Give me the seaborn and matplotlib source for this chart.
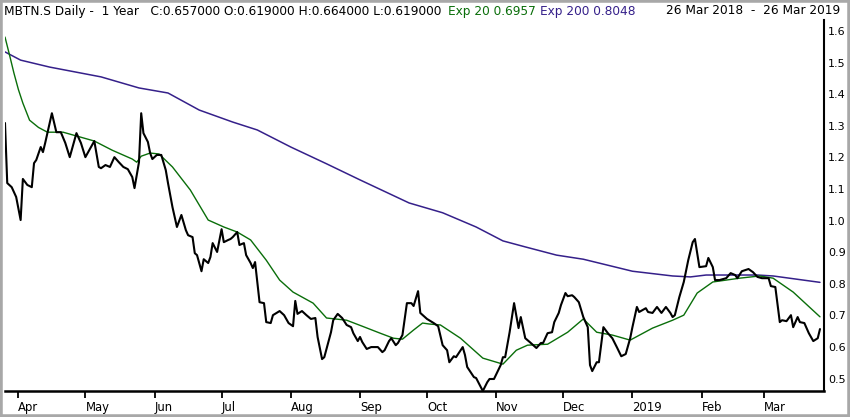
import numpy as np
import pandas as pd
import matplotlib
matplotlib.use("Agg")
import matplotlib.pyplot as plt
import matplotlib.dates as mdates
from matplotlib.ticker import FuncFormatter, FixedLocator
from matplotlib.patches import Rectangle
import seaborn as sns

# ---------------- data ----------------
start_date = "2018-03-26"
end_date = "2019-03-26"

close_day = [0, 1, 3, 5, 7, 8, 10, 12, 13, 14,
             16, 17, 18, 19, 21, 23, 25, 27, 29, 32,
             34, 36, 40, 42, 43, 45, 47, 49, 51, 53,
             55, 57, 58, 60, 61, 62, 64, 65, 66, 68,
             70, 72, 73, 75, 77, 79, 81, 82, 84, 85,
             86, 88, 89, 91, 92, 93, 95, 97, 98, 100,
             101, 102, 104, 105, 107, 108, 110, 111, 112, 114,
             116, 117, 119, 120, 123, 125, 127, 129, 130, 131,
             133, 135, 137, 139, 140, 142, 143, 146, 147, 149,
             151, 153, 155, 156, 158, 159, 160, 162, 164, 167,
             169, 170, 172, 173, 175, 176, 178, 180, 182, 183,
             185, 186, 189, 192, 194, 196, 198, 199, 201, 202,
             205, 206, 207, 210, 211, 214, 216, 217, 219, 222,
             223, 224, 226, 228, 230, 231, 233, 235, 238, 240,
             241, 243, 245, 246, 248, 249, 251, 252, 254, 255,
             257, 259, 261, 262, 263, 265, 266, 268, 270, 272,
             274, 276, 278, 280, 281, 283, 284, 287, 288, 290,
             292, 294, 296, 298, 299, 300, 302, 304, 306, 308,
             309, 311, 314, 315, 317, 318, 320, 323, 325, 327,
             328, 330, 333, 335, 337, 339, 342, 343, 345, 347,
             348, 350, 352, 353, 355, 356, 358, 360, 362, 364,
             365]
close_val = [1.309, 1.119, 1.106, 1.075, 1.002, 1.132, 1.113, 1.106, 1.182, 1.192,
             1.233, 1.217, 1.246, 1.277, 1.340, 1.280, 1.280, 1.246, 1.201, 1.277,
             1.246, 1.201, 1.252, 1.170, 1.166, 1.176, 1.170, 1.201, 1.185, 1.170,
             1.163, 1.138, 1.103, 1.185, 1.340, 1.277, 1.249, 1.214, 1.195, 1.208,
             1.208, 1.160, 1.119, 1.043, 0.980, 1.018, 0.970, 0.954, 0.948, 0.897,
             0.891, 0.840, 0.878, 0.866, 0.885, 0.929, 0.901, 0.973, 0.932, 0.939,
             0.942, 0.948, 0.964, 0.923, 0.929, 0.891, 0.866, 0.850, 0.869, 0.742,
             0.739, 0.679, 0.676, 0.701, 0.714, 0.701, 0.676, 0.666, 0.746, 0.705,
             0.714, 0.701, 0.689, 0.692, 0.632, 0.562, 0.568, 0.647, 0.685, 0.705,
             0.692, 0.670, 0.663, 0.644, 0.619, 0.632, 0.616, 0.594, 0.600, 0.600,
             0.584, 0.590, 0.619, 0.628, 0.606, 0.613, 0.638, 0.739, 0.739, 0.730,
             0.777, 0.708, 0.689, 0.676, 0.666, 0.606, 0.590, 0.552, 0.571, 0.568,
             0.600, 0.575, 0.537, 0.505, 0.502, 0.461, 0.489, 0.499, 0.499, 0.543,
             0.568, 0.568, 0.647, 0.739, 0.660, 0.695, 0.628, 0.616, 0.597, 0.613,
             0.613, 0.644, 0.647, 0.679, 0.708, 0.733, 0.771, 0.761, 0.764, 0.758,
             0.742, 0.695, 0.663, 0.543, 0.524, 0.552, 0.552, 0.663, 0.644, 0.628,
             0.600, 0.571, 0.578, 0.628, 0.663, 0.727, 0.711, 0.723, 0.711, 0.708,
             0.727, 0.708, 0.727, 0.708, 0.695, 0.701, 0.758, 0.806, 0.875, 0.932,
             0.942, 0.853, 0.856, 0.882, 0.853, 0.812, 0.812, 0.818, 0.834, 0.828,
             0.818, 0.840, 0.847, 0.837, 0.822, 0.818, 0.818, 0.793, 0.790, 0.679,
             0.685, 0.682, 0.701, 0.663, 0.695, 0.679, 0.676, 0.644, 0.619, 0.628,
             0.657]

ema20_day = [0, 2, 4, 6, 8, 11, 15, 19, 26, 32, 40, 48, 57,
             59, 61, 65, 69, 75, 83, 91, 98, 104, 110,
             117, 123, 129, 138, 144, 153, 160, 168, 174, 178,
             183, 187, 190, 195, 204, 214, 223, 229, 234, 243,
             252, 259, 265, 272, 280, 290, 299, 304, 310, 317,
             329, 338, 344, 353, 365]
ema20_val = [1.581, 1.525, 1.467, 1.415, 1.372, 1.318, 1.295, 1.280, 1.280, 1.268, 1.252, 1.223, 1.195,
             1.185, 1.204, 1.214, 1.211, 1.170, 1.097, 1.002, 0.980, 0.964, 0.939,
             0.875, 0.812, 0.774, 0.739, 0.692, 0.685, 0.666, 0.644, 0.628, 0.625,
             0.654, 0.676, 0.673, 0.670, 0.628, 0.565, 0.546, 0.590, 0.606, 0.609,
             0.647, 0.689, 0.647, 0.638, 0.622, 0.660, 0.685, 0.701, 0.771, 0.806,
             0.818, 0.825, 0.818, 0.774, 0.6957]

ema200_day = [0, 7, 20, 43, 60, 73, 87, 102, 113, 128,
              144, 159, 181, 196, 211, 223, 233, 247, 259, 270,
              281, 299, 307, 314, 337, 344, 365]
ema200_val = [1.534, 1.508, 1.486, 1.455, 1.420, 1.404, 1.350, 1.312, 1.287, 1.233,
              1.180, 1.129, 1.056, 1.025, 0.980, 0.936, 0.917, 0.891, 0.878, 0.859,
              0.840, 0.825, 0.822, 0.828, 0.828, 0.825, 0.8048]

y_ticks = [0.5, 0.6, 0.7, 0.8, 0.9, 1.0, 1.1, 1.2, 1.3, 1.4, 1.5, 1.6]

title_main = "MBTN.S Daily -  1 Year   C:0.657000 O:0.619000 H:0.664000 L:0.619000"
title_ema20 = "Exp 20 0.6957"
title_ema200 = "Exp 200 0.8048"
title_range = "26 Mar 2018  -  26 Mar 2019"

# ---------------- styling ----------------
sns.set_style("white")
plt.rcParams["font.family"] = ["DejaVu Sans"]

CLOSE_C = "#000000"
EMA20_C = "#0a6e0a"
EMA200_C = "#35208a"
FRAME_C = "#a8a8a8"

W, H = 850, 417
fig = plt.figure(figsize=(W / 100, H / 100), dpi=100)
fig.patch.set_facecolor("white")

ax_l, ax_r, ax_t, ax_b = 5, 824, 20, 391
ax = fig.add_axes([ax_l / W, 1 - ax_b / H, (ax_r - ax_l) / W, (ax_b - ax_t) / H])

t0 = pd.Timestamp(start_date)
df_close = pd.DataFrame({"date": t0 + pd.to_timedelta(close_day, unit="D"), "v": close_val})
df_e20 = pd.DataFrame({"date": t0 + pd.to_timedelta(ema20_day, unit="D"), "v": ema20_val})
df_e200 = pd.DataFrame({"date": t0 + pd.to_timedelta(ema200_day, unit="D"), "v": ema200_val})

sns.lineplot(data=df_e200, x="date", y="v", ax=ax, color=EMA200_C, linewidth=1.1,
             estimator=None, sort=False)
sns.lineplot(data=df_e20, x="date", y="v", ax=ax, color=EMA20_C, linewidth=1.0,
             estimator=None, sort=False)
sns.lineplot(data=df_close, x="date", y="v", ax=ax, color=CLOSE_C, linewidth=1.5,
             estimator=None, sort=False)

ax.set_xlim(t0, t0 + pd.Timedelta(days=366.8))
ax.set_ylim(0.461, 1.635)
ax.set_xlabel("")
ax.set_ylabel("")
ax.set_facecolor("white")

for s in ["top", "left"]:
    ax.spines[s].set_visible(False)
ax.spines["right"].set_linewidth(1.5)
ax.spines["bottom"].set_linewidth(1.8)
ax.spines["right"].set_color("black")
ax.spines["bottom"].set_color("black")

# y axis on right
ax.yaxis.tick_right()
ax.yaxis.set_major_locator(FixedLocator(y_ticks))
ax.yaxis.set_major_formatter(FuncFormatter(lambda v, p: f"{v:.1f}"))
ax.tick_params(axis="y", length=0, pad=3, labelsize=8.0, labelcolor="black")

# x axis month ticks
ax.xaxis.set_major_locator(mdates.MonthLocator())


def month_fmt(x, pos):
    d = mdates.num2date(x)
    return str(d.year) if d.month == 1 else d.strftime("%b")


ax.xaxis.set_major_formatter(FuncFormatter(month_fmt))
ax.tick_params(axis="x", direction="out", length=5, width=1.3, pad=2,
               labelsize=8.4, colors="black", bottom=True)
ax.grid(False)

fig.canvas.draw()
for lbl in ax.get_xticklabels():
    lbl.set_ha("left")

# title row with coloured pieces
renderer = fig.canvas.get_renderer()
ty = 1 - 11 / H
fs = 8.7
t1 = fig.text(4 / W, ty, title_main, fontsize=fs, color="black", va="center", ha="left")
bb = t1.get_window_extent(renderer)
t2 = fig.text((bb.x1 + 7) / W, ty, title_ema20, fontsize=fs, color=EMA20_C, va="center", ha="left")
bb = t2.get_window_extent(renderer)
t3 = fig.text((bb.x1 + 4) / W, ty, title_ema200, fontsize=fs, color=EMA200_C, va="center", ha="left")
fig.text(840 / W, ty, title_range, fontsize=fs, color="black", va="center", ha="right")

# window frame
fig.patches.append(Rectangle((0, 0), 1, 1, transform=fig.transFigure, fill=False,
                             edgecolor=FRAME_C, linewidth=4, zorder=10))

fig.savefig("out.png", dpi=100, facecolor="white")
